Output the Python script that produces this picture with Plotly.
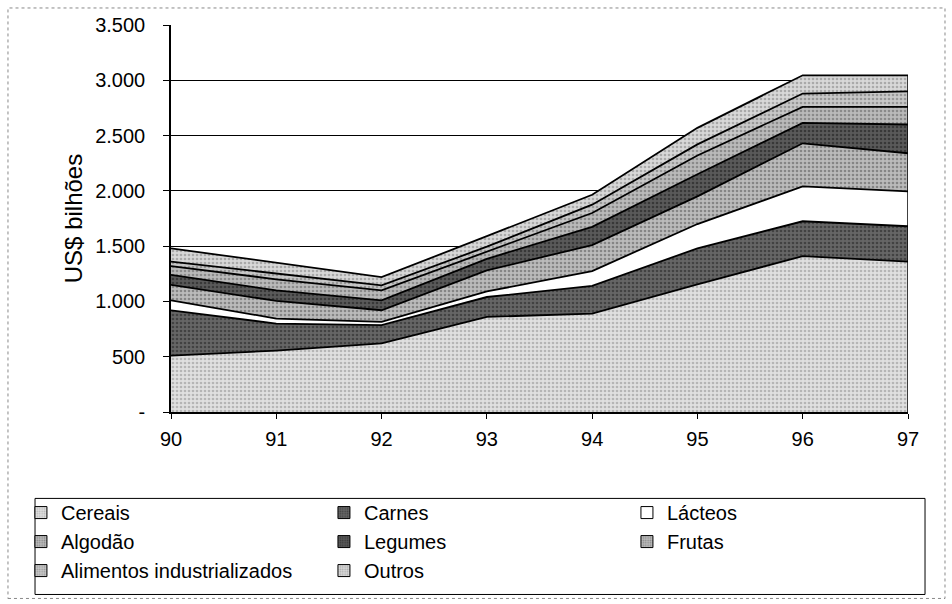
import plotly.graph_objects as go

years = [90, 91, 92, 93, 94, 95, 96, 97]
year_labels = ["90", "91", "92", "93", "94", "95", "96", "97"]

cereais = [510, 555, 620, 860, 890, 1155, 1410, 1360]
carnes = [410, 245, 165, 180, 250, 325, 315, 320]
lacteos = [90, 45, 30, 50, 135, 220, 315, 315]
algodao = [140, 160, 105, 190, 235, 250, 390, 345]
legumes = [90, 95, 90, 105, 165, 200, 185, 260]
frutas = [80, 100, 90, 65, 125, 170, 145, 160]
alimentos = [40, 50, 45, 45, 75, 100, 120, 140]
outros = [120, 100, 75, 95, 90, 150, 165, 145]

series_names = ["Cereais", "Carnes", "Lácteos", "Algodão", "Legumes", "Frutas",
                "Alimentos industrializados", "Outros"]
series_values = [cereais, carnes, lacteos, algodao, legumes, frutas, alimentos, outros]

y_tickvals = [0, 500, 1000, 1500, 2000, 2500, 3000, 3500]
y_ticktext = ["-", "500", "1.000", "1.500", "2.000", "2.500", "3.000", "3.500"]

# style: (background, foreground dots)
styles = [
    ("#e0e0e0", "#8a8a8a"),
    ("#666666", "#1e1e1e"),
    ("#ffffff", "#ffffff"),
    ("#bbbbbb", "#505050"),
    ("#5a5a5a", "#151515"),
    ("#bababa", "#5a5a5a"),
    ("#c8c8c8", "#666666"),
    ("#d8d8d8", "#7a7a7a"),
]

fig = go.Figure()
for name, vals, (bg, fg) in zip(series_names, series_values, styles):
    fig.add_trace(go.Scatter(
        x=years, y=vals, name=name, mode="lines", stackgroup="one",
        line=dict(color="#000000", width=1.8),
        fillcolor=bg,
        fillpattern=dict(shape=".", fgcolor=fg, bgcolor=bg, size=4, solidity=0.35),
        showlegend=False,
    ))

# legend swatches (square boxes like the original)
for name, (bg, fg) in zip(series_names, styles):
    fig.add_trace(go.Bar(
        x=[None], y=[None], name=name, showlegend=True,
        marker=dict(color=bg, line=dict(color="#000000", width=1),
                    pattern=dict(shape=".", fgcolor=fg, bgcolor=bg, size=3, solidity=0.35)),
    ))

totals = [sum(v) for v in zip(*series_values)]

fig.add_shape(type="line", xref="x", yref="y", x0=years[-1], x1=years[-1],
              y0=0, y1=totals[-1], line=dict(color="#000000", width=1.5))

# outer frame
fig.add_shape(type="rect", xref="paper", yref="paper",
              x0=-0.2212, x1=1.0502, y0=-0.4818, y1=1.044,
              line=dict(color="#888888", width=1, dash="dot"), layer="below")

# legend frame
fig.add_shape(type="rect", xref="paper", yref="paper",
              x0=-0.1845, x1=1.0231, y0=-0.4715, y1=-0.2233,
              line=dict(color="#000000", width=1), layer="below")

fig.update_layout(
    width=952, height=604,
    margin=dict(l=171, r=44, t=25, b=192, autoexpand=False),
    paper_bgcolor="#ffffff", plot_bgcolor="#ffffff",
    font=dict(family="Liberation Sans, Arial, sans-serif", size=20, color="#000000"),
    showlegend=True,
    barmode="overlay",
    legend=dict(
        orientation="h", traceorder="normal",
        x=-0.2036, xanchor="left", y=-0.2095, yanchor="top",
        entrywidth=258, entrywidthmode="pixels",
        borderwidth=0, bgcolor="rgba(0,0,0,0)",
        font=dict(size=20), itemwidth=30, tracegroupgap=0,
    ),
    xaxis=dict(
        range=[years[0], years[-1]], tickvals=years, ticktext=year_labels,
        showline=True, linecolor="#000000", linewidth=1.5,
        ticks="outside", ticklen=5, tickcolor="#000000",
        ticklabelstandoff=3,
        showgrid=False, zeroline=False,
    ),
    yaxis=dict(
        range=[0, 3500], tickvals=y_tickvals, ticktext=y_ticktext,
        showline=True, linecolor="#000000", linewidth=1.5,
        ticks="outside", ticklen=6, tickcolor="#000000",
        ticklabelstandoff=14,
        showgrid=True, gridcolor="#000000", gridwidth=1,
        zeroline=False,
        title=dict(text="US$ bilhões", standoff=6),
    ),
)

fig.write_html("out.html", config={"displayModeBar": False},
               post_script="document.body.style.margin='0';")
